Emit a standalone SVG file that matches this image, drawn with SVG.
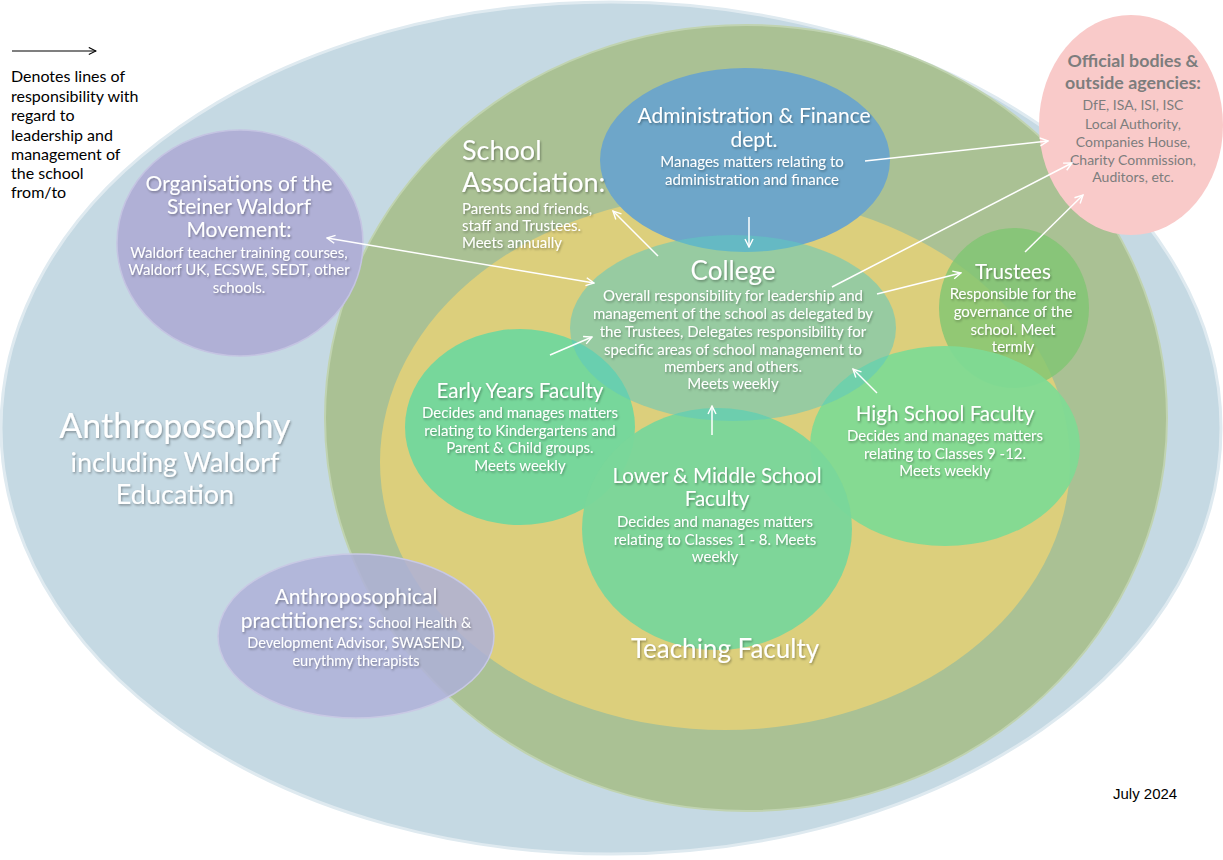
<svg xmlns="http://www.w3.org/2000/svg" width="1223" height="860" viewBox="0 0 1223 860">
<style>
.w{fill:#fff;font-family:Lato,"Open Sans",sans-serif;text-anchor:middle;filter:url(#sh)}
.s{text-anchor:start}
.t20{font-size:20.6px}
.t14{font-size:15px}
.g{fill:#7d7d7d;font-family:Lato,"Open Sans",sans-serif;text-anchor:middle}
.c{fill:none;stroke:#fff;stroke-width:1.5}
.leg{fill:#000;font-family:Lato,"Liberation Sans",sans-serif;font-size:16px}
</style>
<defs>
<filter id="sh" x="-10%" y="-30%" width="130%" height="180%">
<feDropShadow dx="1" dy="1.5" stdDeviation="1.2" flood-color="#000" flood-opacity="0.35"/>
</filter>
<marker id="ah" viewBox="0 0 10 10" refX="9" refY="5" markerWidth="10" markerHeight="10" markerUnits="userSpaceOnUse" orient="auto-start-reverse">
<path d="M1,1 L9,5 L1,9" fill="none" stroke="#fff" stroke-width="1.4"/>
</marker>
<marker id="ahk" viewBox="0 0 10 10" refX="9" refY="5" markerWidth="9" markerHeight="9" markerUnits="userSpaceOnUse" orient="auto">
<path d="M1,1 L9,5 L1,9" fill="none" stroke="#000" stroke-width="1.2"/>
</marker>
</defs>
<rect width="1223" height="860" fill="#fff"/>

<g id="anthroposophy">
<ellipse cx="611" cy="428" rx="610" ry="426" fill="#c5d9e3" stroke="#dfeaf0" stroke-width="3"/>
<text class="w" x="175" y="438" font-size="34">Anthroposophy</text>
<text class="w" x="175" y="472" font-size="27">including Waldorf</text>
<text class="w" x="175" y="504" font-size="27">Education</text>
</g>

<g id="school-association">
<ellipse cx="746" cy="418" rx="421" ry="393" fill="#aac194" stroke="#c0d3b0" stroke-width="2"/>
</g>

<g id="teaching-faculty">
<ellipse cx="725" cy="462" rx="345" ry="268" fill="#dccf7c"/>
</g>

<g id="official-bodies">
<ellipse cx="1131" cy="125" rx="92" ry="110" fill="#f9cac9"/>
<text class="g" x="1133" y="67" font-size="17.8" font-weight="bold">Official bodies &amp;</text>
<text class="g" x="1133" y="89" font-size="17.8" font-weight="bold">outside agencies:</text>
<text class="g" x="1133" y="110" font-size="14">DfE, ISA, ISI, ISC</text>
<text class="g" x="1133" y="129" font-size="14">Local Authority,</text>
<text class="g" x="1133" y="147" font-size="14">Companies House,</text>
<text class="g" x="1133" y="165" font-size="14">Charity Commission,</text>
<text class="g" x="1133" y="182" font-size="14">Auditors, etc.</text>
</g>

<g id="organisations">
<ellipse cx="240" cy="243" rx="123" ry="113" fill="#b0b0d6" stroke="#c4c4e2" stroke-width="1.5"/>
<text class="w" x="239" y="191" font-size="21">Organisations of the</text>
<text class="w" x="239" y="214" font-size="21">Steiner Waldorf</text>
<text class="w" x="239" y="237" font-size="21">Movement:</text>
<text class="w t14" x="239" y="258">Waldorf teacher training courses,</text>
<text class="w t14" x="239" y="275">Waldorf UK, ECSWE, SEDT, other</text>
<text class="w t14" x="239" y="293">schools.</text>
</g>

<g id="practitioners">
<ellipse cx="356" cy="636" rx="138" ry="82" fill="#aeb0d8" fill-opacity="0.85" stroke="#c8c9e4" stroke-width="1.5"/>
<text class="w" x="356" y="604" font-size="21">Anthroposophical</text>
<text class="w" x="356" y="628"><tspan font-size="21">practitioners: </tspan><tspan font-size="14.5">School Health &amp;</tspan></text>
<text class="w" x="356" y="648" font-size="14.5">Development Advisor, SWASEND,</text>
<text class="w" x="356" y="666" font-size="14.5">eurythmy  therapists</text>
</g>

<g id="admin">
<ellipse cx="745" cy="160" rx="145" ry="92" fill="#6ea6c9"/>
<text class="w" x="754" y="123" font-size="21">Administration &amp; Finance</text>
<text class="w" x="754" y="147" font-size="21">dept.</text>
<text class="w t14" x="752" y="167">Manages matters relating to</text>
<text class="w t14" x="752" y="185">administration and finance</text>
</g>

<g id="trustees">
<ellipse cx="1014" cy="308" rx="75" ry="80" fill="#7fc672" fill-opacity="0.8"/>
<text class="w t20" x="1013" y="279">Trustees</text>
<text class="w t14" x="1013" y="299">Responsible for the</text>
<text class="w t14" x="1013" y="317">governance of the</text>
<text class="w t14" x="1013" y="335">school. Meet</text>
<text class="w t14" x="1013" y="352">termly</text>
</g>

<g id="early-years">
<ellipse cx="520" cy="427" rx="115" ry="98" fill="#77d79b"/>
<text class="w t20" x="520" y="398">Early Years Faculty</text>
<text class="w t14" x="520" y="418">Decides and manages matters</text>
<text class="w t14" x="520" y="436">relating to Kindergartens and</text>
<text class="w t14" x="520" y="453">Parent &amp; Child groups.</text>
<text class="w t14" x="520" y="471">Meets weekly</text>
</g>

<g id="high-school">
<ellipse cx="945" cy="446" rx="135" ry="100" fill="#80da93" fill-opacity="0.95"/>
<text class="w t20" x="945" y="421">High School Faculty</text>
<text class="w t14" x="945" y="441">Decides and manages matters</text>
<text class="w t14" x="945" y="459">relating to Classes 9 -12.</text>
<text class="w t14" x="945" y="476">Meets weekly</text>
</g>

<g id="lower-middle">
<ellipse cx="717" cy="529" rx="135" ry="121" fill="#7ad69a" fill-opacity="0.96"/>
<text class="w t20" x="717" y="483">Lower &amp; Middle School</text>
<text class="w t20" x="717" y="506">Faculty</text>
<text class="w t14" x="715" y="527">Decides and manages matters</text>
<text class="w t14" x="715" y="545">relating to Classes 1 - 8. Meets</text>
<text class="w t14" x="715" y="562">weekly</text>
</g>

<g id="college">
<ellipse cx="733" cy="328" rx="163" ry="93" fill="#5ec8c0" fill-opacity="0.55"/>
<text class="w" x="733" y="280" font-size="26">College</text>
<text class="w t14" x="733" y="301">Overall responsibility for leadership and</text>
<text class="w t14" x="733" y="319">management of the school as delegated by</text>
<text class="w t14" x="733" y="337">the Trustees, Delegates responsibility for</text>
<text class="w t14" x="733" y="355">specific areas of school management to</text>
<text class="w t14" x="733" y="372">members and others.</text>
<text class="w t14" x="733" y="389">Meets weekly</text>
</g>

<g id="school-association-label">
<text class="w s" x="462" y="160" font-size="27">School</text>
<text class="w s" x="462" y="192" font-size="27">Association:</text>
<text class="w t14 s" x="462" y="214">Parents and friends,</text>
<text class="w t14 s" x="462" y="231">staff and Trustees.</text>
<text class="w t14 s" x="462" y="248">Meets annually</text>
</g>

<g id="teaching-faculty-label">
<text class="w" x="725" y="658" font-size="26">Teaching Faculty</text>
</g>

<g id="connectors">
<line class="c" x1="865" y1="161" x2="1048" y2="141" marker-end="url(#ah)"/>
<line class="c" x1="832" y1="287" x2="1072" y2="163" marker-end="url(#ah)"/>
<line class="c" x1="1025" y1="252" x2="1083" y2="195" marker-end="url(#ah)"/>
<line class="c" x1="877" y1="294" x2="961" y2="273" marker-end="url(#ah)"/>
<line class="c" x1="749" y1="217" x2="749" y2="247" marker-end="url(#ah)"/>
<line class="c" x1="658" y1="256" x2="613" y2="211" marker-end="url(#ah)"/>
<line class="c" x1="327" y1="238" x2="594" y2="283" marker-start="url(#ah)" marker-end="url(#ah)"/>
<line class="c" x1="550" y1="355" x2="592" y2="337" marker-end="url(#ah)"/>
<line class="c" x1="877" y1="393" x2="853" y2="369" marker-end="url(#ah)"/>
<line class="c" x1="712" y1="435" x2="712" y2="406" marker-end="url(#ah)"/>
</g>

<g id="legend">
<line x1="12" y1="51" x2="96" y2="51" stroke="#000" stroke-width="1.2" marker-end="url(#ahk)"/>
<text class="leg" x="11" y="82">Denotes lines of</text>
<text class="leg" x="11" y="102">responsibility with</text>
<text class="leg" x="11" y="121">regard to</text>
<text class="leg" x="11" y="141">leadership and</text>
<text class="leg" x="11" y="160">management of</text>
<text class="leg" x="11" y="179">the school</text>
<text class="leg" x="11" y="198">from/to</text>
<text x="1113" y="799" font-family="'Liberation Sans',Arial,sans-serif" font-size="15" fill="#000">July 2024</text>
</g>
</svg>
